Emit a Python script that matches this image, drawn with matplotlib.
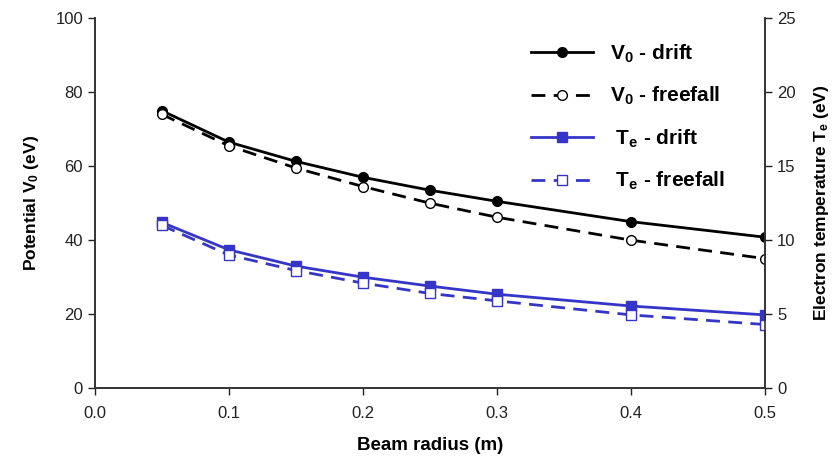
import matplotlib.pyplot as plt
import numpy as np

plt.rcParams['font.family'] = ['Liberation Sans', 'DejaVu Sans']
plt.rcParams['mathtext.fontset'] = 'custom'
plt.rcParams['mathtext.bf'] = 'Liberation Sans:bold'
plt.rcParams['mathtext.rm'] = 'Liberation Sans:bold'
plt.rcParams['mathtext.default'] = 'bf'

# beam radius (m)
radius = [0.05, 0.1, 0.15, 0.2, 0.25, 0.3, 0.4, 0.5]
# potential V0 (eV)
v0_drift = [75.0, 66.5, 61.3, 57.0, 53.5, 50.5, 45.0, 40.8]
v0_freefall = [74.0, 65.5, 59.5, 54.5, 50.0, 46.2, 40.0, 35.0]
# electron temperature Te (eV)
te_drift = [11.2, 9.35, 8.25, 7.5, 6.9, 6.35, 5.55, 4.95]
te_freefall = [11.0, 9.0, 7.95, 7.1, 6.4, 5.9, 4.95, 4.3]

blue = '#3535c8'

fig = plt.figure(figsize=(8.39, 4.66), dpi=100)
ax = fig.add_axes([0.113, 0.167, 0.799, 0.794])
ax2 = ax.twinx()

l1, = ax.plot(radius, v0_drift, '-', color='black', lw=2, marker='o',
              ms=7, mfc='black', label='$V_0$ - drift')
l2, = ax.plot(radius, v0_freefall, '--', color='black', lw=2, marker='o',
              ms=7, mfc='white', mew=1, dashes=(5, 3), label='$V_0$ - freefall')
l3, = ax2.plot(radius, te_drift, '-', color=blue, lw=2, marker='s',
               ms=7.5, mfc=blue, label=' $T_e$ - drift')
l4, = ax2.plot(radius, te_freefall, '--', color=blue, lw=2, marker='s',
               ms=7, mfc='white', mew=1, dashes=(5, 3), label=' $T_e$ - freefall')

ax.set_xlim(0, 0.5)
ax.set_ylim(0, 100)
ax2.set_ylim(0, 25)
ax.set_xticks(np.arange(0, 0.51, 0.1))
ax.set_xticklabels(['0.0', '0.1', '0.2', '0.3', '0.4', '0.5'])
ax.set_yticks(range(0, 101, 20))
ax2.set_yticks(range(0, 26, 5))

for a in (ax, ax2):
    a.spines['top'].set_visible(False)
    a.tick_params(direction='out', length=5, width=1, labelsize=12, colors='#222222')
    for s in a.spines.values():
        s.set_color('#333333')
        s.set_linewidth(1.2)
ax.tick_params(axis='x', pad=8)

ax.set_xlabel('Beam radius (m)', fontsize=13.5, fontweight='bold', labelpad=11)
ax.set_ylabel('Potential $V_0$ (eV)', fontsize=12.5, fontweight='bold', labelpad=10)
ax2.set_ylabel('Electron temperature $T_e$ (eV)', fontsize=12.5, fontweight='bold',
               labelpad=12)

leg = ax.legend(handles=[l1, l2, l3, l4], loc='upper left',
                bbox_to_anchor=(0.622, 0.985), frameon=False,
                prop={'size': 15, 'weight': 'bold'}, handlelength=3.0,
                labelspacing=0.97, handletextpad=0.8)

fig.savefig('out.png', dpi=100)
